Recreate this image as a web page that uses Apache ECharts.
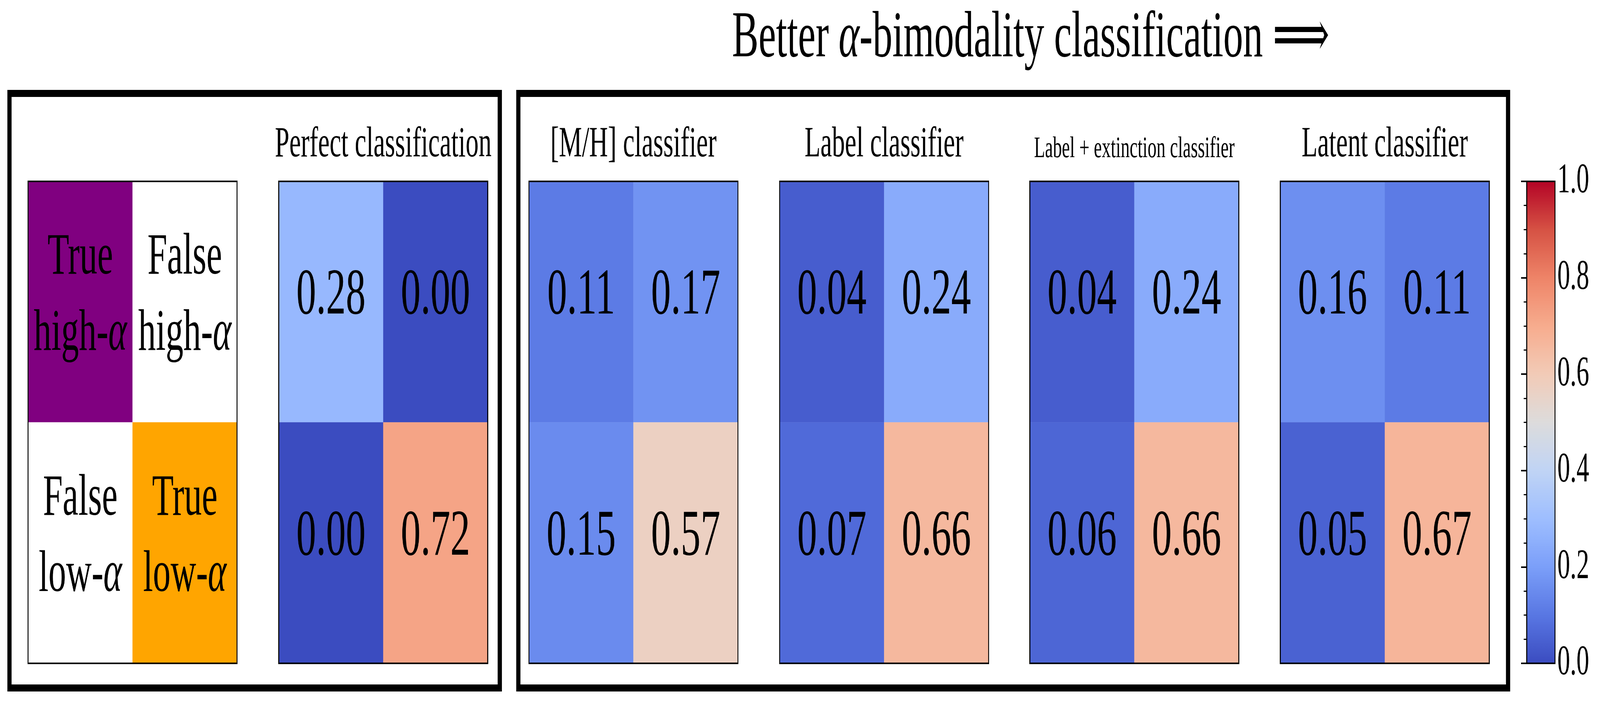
<!DOCTYPE html>
<html>
<head>
<meta charset="utf-8">
<script src="https://cdn.jsdelivr.net/npm/echarts@6/dist/echarts.min.js"></script>
<style>
html,body{margin:0;padding:0;background:#fff;overflow:hidden;}
#chart{width:6791px;height:1801px;transform-origin:0 0;}
</style>
</head>
<body>
<div id="chart"></div>
<script>
// ---------- data ----------
const colCategories = ['left', 'right'];
const rowCategories = ['top', 'bottom'];

const legendLabels = [
  ['True\nhigh-{a|α}', 'False\nhigh-{a|α}'],
  ['False\nlow-{a|α}', 'True\nlow-{a|α}']
];
const legendColors = [
  ['#800080', '#ffffff'],
  ['#ffffff', '#ffa500']
];

const panelTitles = ['Perfect classification', '[M/H] classifier', 'Label classifier',
                     'Label + extinction classifier', 'Latent classifier'];
const perfectValues   = [[0.28, 0.00], [0.00, 0.72]];
const mhValues        = [[0.11, 0.17], [0.15, 0.57]];
const labelValues     = [[0.04, 0.24], [0.07, 0.66]];
const labelExtValues  = [[0.04, 0.24], [0.06, 0.66]];
const latentValues    = [[0.16, 0.11], [0.05, 0.67]];
const panelValues = [perfectValues, mhValues, labelValues, labelExtValues, latentValues];

const colorbarMin = 0, colorbarMax = 1, colorbarStep = 0.2;
// matplotlib "coolwarm" colormap stops (0.0 .. 1.0)
const coolwarmStops = ['#3b4cc0', '#5977e3', '#7b9ff9', '#9ebeff', '#c0d4f5', '#dddcdc',
                       '#f2cbb7', '#f7ac8e', '#ee8468', '#d65244', '#b40426'];

const figTitle = 'Better {a|α}-bimodality classification ⟹';

// ---------- layout ----------
const FIG_W = 6791, FIG_H = 1801;
// fit the full figure into the actual browser viewport
(function fit() {
  const sx = Math.min(1, window.innerWidth / FIG_W);
  const sy = Math.min(1, window.innerHeight / FIG_H);
  document.getElementById('chart').style.transform = 'scale(' + sx + ',' + sy + ')';
})();

const FONT = '"Liberation Serif", "DejaVu Serif", serif';
const panelLeft = [119, 1183, 2245, 3309, 4371, 5434];
const panelTop = 464, panelW = 887, panelH = 1233;
const subtitleSize = [110, 110, 110, 76, 110];

const grids = [], xAxes = [], yAxes = [], series = [], graphics = [];

function addGrid(left, width) {
  grids.push({left: left, top: panelTop, width: width, height: panelH,
              show: true, z: 10, backgroundColor: 'rgba(0,0,0,0)',
              borderColor: '#000', borderWidth: 4});
  return grids.length - 1;
}
function toCells(mat) {
  const out = [];
  mat.forEach((row, r) => row.forEach((v, c) => out.push([c, r, v])));
  return out;
}

// legend panel
{
  const gi = addGrid(panelLeft[0], panelW);
  xAxes.push({type: 'category', data: colCategories, gridIndex: gi, show: false});
  yAxes.push({type: 'category', data: rowCategories, gridIndex: gi, show: false, inverse: true});
  const data = [];
  legendLabels.forEach((row, r) => row.forEach((t, c) => {
    data.push({value: [c, r, 0], name: t, itemStyle: {color: legendColors[r][c]}});
  }));
  series.push({
    type: 'heatmap', xAxisIndex: gi, yAxisIndex: gi, data: data,
    itemStyle: {borderWidth: 0},
    label: {
      show: true, color: '#000', fontFamily: FONT, fontSize: 150, lineHeight: 195,
      offset: [0, -14],
      formatter: p => p.name,
      rich: {a: {fontStyle: 'italic', fontFamily: FONT, fontSize: 150, lineHeight: 195, color: '#000'}}
    },
    emphasis: {disabled: true}
  });
}

// value panels
panelValues.forEach((mat, k) => {
  const gi = addGrid(panelLeft[k + 1], panelW);
  xAxes.push({type: 'category', data: colCategories, gridIndex: gi, show: false});
  yAxes.push({type: 'category', data: rowCategories, gridIndex: gi, show: false, inverse: true});
  series.push({
    type: 'heatmap', xAxisIndex: gi, yAxisIndex: gi, data: toCells(mat),
    itemStyle: {borderWidth: 0},
    label: {show: true, color: '#000', fontFamily: FONT, fontSize: 168, offset: [0, -14],
            formatter: p => p.value[2].toFixed(2)},
    emphasis: {disabled: true}
  });
  graphics.push({
    type: 'text', x: panelLeft[k + 1] + panelW / 2, y: 408 - 0.3375 * subtitleSize[k],
    style: {text: panelTitles[k], fontFamily: FONT, fontSize: subtitleSize[k], fill: '#000',
            align: 'center', verticalAlign: 'middle', textAlign: 'center', textVerticalAlign: 'middle'}
  });
});

// colorbar axis grid
{
  const gi = grids.length;
  grids.push({left: 6480, top: panelTop, width: 120, height: panelH, show: true, z: 10,
              backgroundColor: 'rgba(0,0,0,0)', borderColor: '#000', borderWidth: 4});
  xAxes.push({type: 'value', gridIndex: gi, show: false, min: 0, max: 1});
  yAxes.push({
    type: 'value', gridIndex: gi, position: 'right', min: colorbarMin, max: colorbarMax,
    interval: colorbarStep, z: 12,
    axisLine: {show: false},
    splitLine: {show: false},
    axisTick: {show: true, inside: true, length: 24, lineStyle: {color: '#000', width: 4}},
    minorTick: {show: true, splitNumber: 4, length: 13, lineStyle: {color: '#000', width: 3}},
    axisLabel: {show: true, margin: 10, color: '#000', fontFamily: FONT, fontSize: 108,
                formatter: v => v.toFixed(1)}
  });
}

// frames and title
graphics.push({type: 'rect', shape: {x: 40, y: 239, width: 2081, height: 1521},
               style: {fill: 'none', stroke: '#000', lineWidth: 18}, z: 20});
graphics.push({type: 'rect', shape: {x: 2200, y: 239, width: 4201, height: 1521},
               style: {fill: 'none', stroke: '#000', lineWidth: 18}, z: 20});
graphics.push({
  type: 'text', x: 4375, y: 100,
  style: {text: figTitle, fontFamily: FONT, fontSize: 168, fill: '#000',
          align: 'center', verticalAlign: 'middle', textAlign: 'center', textVerticalAlign: 'middle',
          rich: {a: {fontStyle: 'italic', fontFamily: FONT, fontSize: 168, fill: '#000'}}}
});

const chart = echarts.init(document.getElementById('chart'), null, {renderer: 'canvas', width: FIG_W, height: FIG_H});
chart.setOption({
  backgroundColor: '#fff',
  animation: false,
  grid: grids, xAxis: xAxes, yAxis: yAxes,
  visualMap: {
    type: 'continuous', min: colorbarMin, max: colorbarMax,
    seriesIndex: [1, 2, 3, 4, 5], dimension: 2,
    calculable: false, realtime: false, showLabel: false, hoverLink: false,
    orient: 'vertical', left: 6480, top: panelTop, padding: 0,
    itemWidth: 120, itemHeight: panelH,
    inRange: {color: coolwarmStops}
  },
  series: series,
  graphic: graphics
});
</script>
</body>
</html>
